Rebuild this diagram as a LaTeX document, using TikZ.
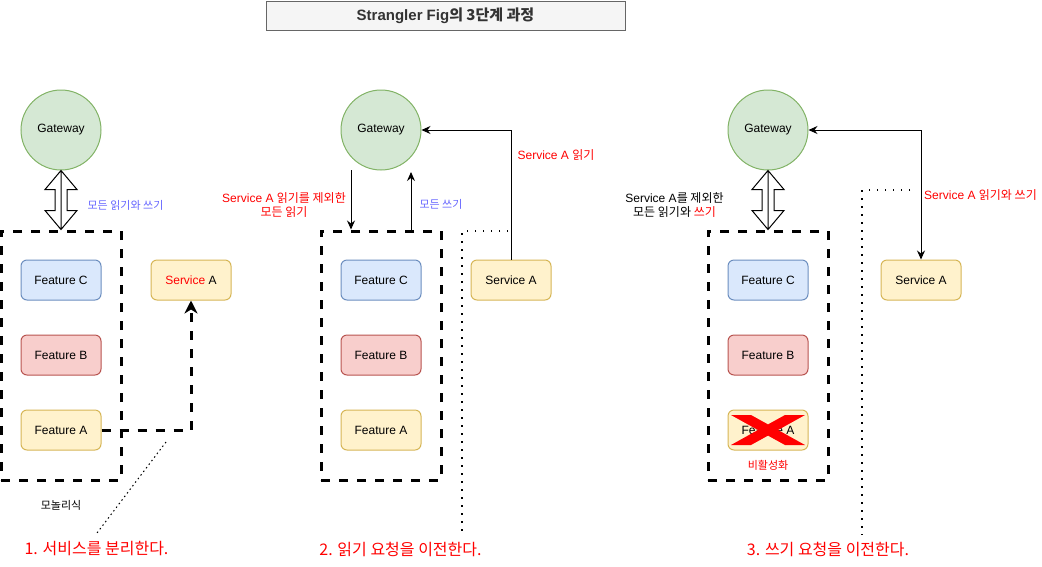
\documentclass[tikz,border=0pt]{standalone}
\usepackage{fontspec}
\setmainfont{Liberation Sans}
\newfontfamily\kr{Noto Sans CJK KR}
\usetikzlibrary{arrows.meta,calc}
\definecolor{gfill}{HTML}{D5E8D4}\definecolor{gline}{HTML}{82B366}
\definecolor{bfill}{HTML}{DAE8FC}\definecolor{bline}{HTML}{6C8EBF}
\definecolor{rfill}{HTML}{F8CECC}\definecolor{rline}{HTML}{B85450}
\definecolor{yfill}{HTML}{FFF2CC}\definecolor{yline}{HTML}{D6B656}
\definecolor{tfill}{HTML}{F5F5F5}\definecolor{tline}{HTML}{666666}
\definecolor{ttext}{HTML}{333333}
\definecolor{bluetxt}{HTML}{6666FF}
\newcommand\hollowarr[2]{%
  \draw[hollowst] let \p1=(#1), \p2=(#2) in
  (\x1,\y1) -- (\x1+16pt,\y1-19pt) -- (\x1+6pt,\y1-19pt) -- (\x1+6pt,\y2+19pt)
  -- (\x1+16pt,\y2+19pt) -- (\x1,\y2) -- (\x1-16pt,\y2+19pt) -- (\x1-6pt,\y2+19pt)
  -- (\x1-6pt,\y1-19pt) -- (\x1-16pt,\y1-19pt) -- cycle
  (\x1,\y1) -- (\x1,\y2);}
\begin{document}
\begin{tikzpicture}[x=1pt,y=-1pt,
  every node/.style={font=\fontsize{12}{14}\selectfont},
  gw/.style={circle,draw=gline,fill=gfill,line width=1pt,minimum size=80pt,inner sep=0pt},
  feat/.style={rectangle,rounded corners=6pt,line width=1pt,minimum width=80pt,minimum height=40pt,inner sep=0pt},
  fc/.style={feat,draw=bline,fill=bfill},
  fb/.style={feat,draw=rline,fill=rfill},
  fay/.style={feat,draw=yline,fill=yfill},
  mono/.style={draw=black,line width=3pt,dash pattern=on 9pt off 9pt,minimum width=120pt,minimum height=249pt,inner sep=0pt},
  dotline/.style={draw=black,line width=1.5pt,dash pattern=on 1.5pt off 6.5pt},
  arr/.style={draw=black,line width=1pt,-{Stealth[length=9pt,width=8pt,inset=3pt]}},
  arrboth/.style={draw=black,line width=1pt,{Stealth[length=9pt,width=8pt,inset=3pt]}-{Stealth[length=9pt,width=8pt,inset=3pt]}},
  thickarr/.style={draw=black,line width=3pt,dash pattern=on 9pt off 9pt,-{Stealth[length=13pt,width=13pt,inset=4pt]}},
  hollowst/.style={draw=black,line width=1pt,fill=white},
  lbl/.style={inner sep=0pt,align=center},
  small/.style={font=\fontsize{11}{13}\selectfont},
  stepl/.style={inner sep=0pt,text=red,font=\fontsize{16}{18}\selectfont\kr}]
\useasboundingbox (0,0) rectangle (1042,566);
% title
\node[draw=tline,fill=tfill,line width=1pt,minimum width=359pt,minimum height=29pt,inner sep=0pt,
  font=\fontsize{15}{17}\selectfont\bfseries,text=ttext] (title) at (445.5,15.5) {Strangler Fig{\kr\bfseries 의 3단계 과정}};
% ---------------- panel 1
\node[gw] (g1) at (61,130) {Gateway};
\node[mono] (box1) at (61,355.5) {};
\node[fc] (fc1) at (61,280) {Feature C};
\node[fb] (fb1) at (61,355) {Feature B};
\node[fay] (fa1) at (61,430) {Feature A};
\node[fay] (s1) at (191,280) {{\color{red}Service} A};
\hollowarr{g1.south}{box1.north}
\node[lbl,small,text=bluetxt] (l1) at (125.5,205) {\kr 모든 읽기와 쓰기};
\draw[thickarr] (fa1.east) -| (s1.south);
\coordinate (d1a) at (166,442);
\coordinate (d1b) at (97,533);
\draw[dotline,dash pattern=on 1.5pt off 3pt,line width=1pt] (d1a) -- (d1b);
\node[lbl,small] (mono1) at (61,505) {\kr 모놀리식};
\node[stepl] (st1) at (96.5,549) {1. 서비스를 분리한다.};
% ---------------- panel 2
\node[gw] (g2) at (381,130) {Gateway};
\node[mono] (box2) at (381,355.5) {};
\node[fc] (fc2) at (381,280) {Feature C};
\node[fb] (fb2) at (381,355) {Feature B};
\node[fay] (fa2) at (381,430) {Feature A};
\node[fay] (s2) at (511,280) {Service A};
\coordinate (r2) at (351,170);
\coordinate (w2) at (411,172);
\draw[arr] (r2) -- (r2 |- box2.north);
\draw[arr] (w2 |- box2.north) -- (w2);
\draw[arr] (s2.north) |- (g2.east);
\node[lbl,text=red] (l2a) at (284,205) {Service A {\kr 읽기를 제외한}\\{\kr 모든 읽기}};
\node[lbl,small,text=bluetxt] (l2b) at (441,204) {\kr 모든 쓰기};
\node[lbl,text=red] (l2c) at (556,155) {Service A {\kr 읽기}};
\coordinate (d2a) at (508,231);
\coordinate (d2b) at (462,231);
\coordinate (d2c) at (462,532);
\draw[dotline] (d2a) -- (d2b) -- (d2c);
\node[stepl] (st2) at (400.5,549) {2. 읽기 요청을 이전한다.};
% ---------------- panel 3
\node[gw] (g3) at (768,130) {Gateway};
\node[mono] (box3) at (768,355.5) {};
\node[fc] (fc3) at (768,280) {Feature C};
\node[fb] (fb3) at (768,355) {Feature B};
\node[fay] (fa3) at (768,430) {Feature A};
\node[fay] (s3) at (921,280) {Service A};
\hollowarr{g3.south}{box3.north}
\fill[red] ($(fa3.center)+(-37,-15)$) -- ($(fa3.center)+(-17,-15)$) -- ($(fa3.center)+(0,-5.6)$)
  -- ($(fa3.center)+(17,-15)$) -- ($(fa3.center)+(37,-15)$) -- ($(fa3.center)+(10,0)$)
  -- ($(fa3.center)+(37,15)$) -- ($(fa3.center)+(17,15)$) -- ($(fa3.center)+(0,5.6)$)
  -- ($(fa3.center)+(-17,15)$) -- ($(fa3.center)+(-37,15)$) -- ($(fa3.center)+(-10,0)$) -- cycle;
\node[lbl,small,text=red] (off3) at (768,465) {\kr 비활성화};
\draw[arrboth] (g3.east) -| (s3.north);
\node[lbl] (l3a) at (674.5,205) {Service A{\kr 를 제외한}\\{\kr 모든 읽기와 {\color{red}쓰기}}};
\node[lbl,text=red] (l3b) at (980.5,195) {Service A {\kr 읽기와 쓰기}};
\coordinate (d3a) at (910,190);
\coordinate (d3b) at (862,190);
\coordinate (d3c) at (862,535);
\draw[dotline] (d3a) -- (d3b) -- (d3c);
\node[stepl] (st3) at (828,549) {3. 쓰기 요청을 이전한다.};
\end{tikzpicture}
\end{document}
